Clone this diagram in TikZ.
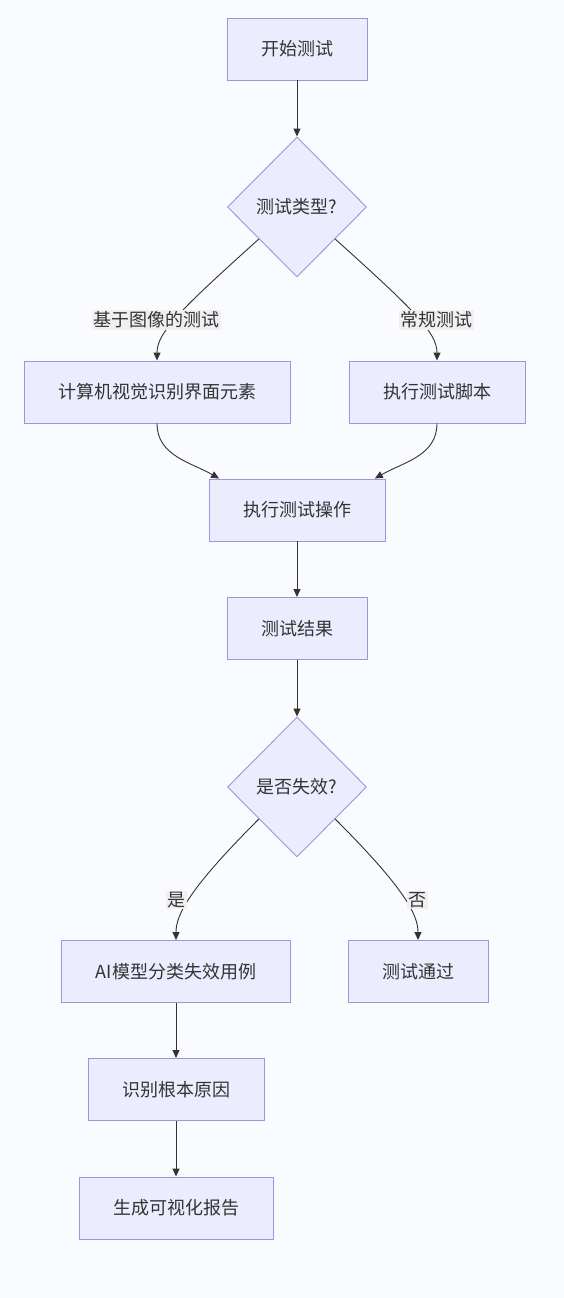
\documentclass[tikz,border=0pt]{standalone}
\usepackage{fontspec}
\setmainfont{Noto Sans CJK SC}
\usetikzlibrary{arrows.meta,shapes.geometric}
\definecolor{boxfill}{HTML}{ECECFF}
\definecolor{boxline}{HTML}{9F95DA}
\definecolor{ink}{HTML}{333333}
\definecolor{paper}{HTML}{FAFBFE}
\tikzset{
  box/.style={draw=boxline, fill=boxfill, line width=0.9pt, minimum height=62pt,
    inner xsep=34pt, text=ink, font=\fontsize{18}{21}\selectfont},
  choice/.style={diamond, draw=boxline, fill=boxfill, line width=0.9pt, inner sep=0pt,
    minimum width=139pt, minimum height=140pt, text=ink, font=\fontsize{18}{21}\selectfont},
  link/.style={draw=ink, line width=0.9pt, -{Triangle[length=8pt,width=7pt]}},
  branch/.style={out looseness=1.7, in looseness=0.45},
  tag/.style={fill=gray!12, text=ink, inner sep=1.5pt, font=\fontsize{18}{21}\selectfont}
}

\begin{document}
\begin{tikzpicture}[x=1pt,y=1pt]
			\fill[paper] (0,0) rectangle (564,-1298);
			\useasboundingbox (0,0) rectangle (564,-1298);
			\node[box]    (start)    at (297,-49)     {开始测试};
			\node[choice] (type)     at (297,-207)    {测试类型?};
			\node[box]    (vision)   at (157,-392)    {计算机视觉识别界面元素};
			\node[box]    (script)   at (437,-392)    {执行测试脚本};
			\node[box]    (exec)     at (297,-510)    {执行测试操作};
			\node[box]    (result)   at (297,-628.5)  {测试结果};
			\node[choice] (fail)     at (297,-787)    {是否失效?};
			\node[box]    (classify) at (176,-971.5)  {AI模型分类失效用例};
			\node[box]    (pass)     at (418,-971.5)  {测试通过};
			\node[box]    (cause)    at (176,-1089.5) {识别根本原因};
			\node[box]    (report)   at (176,-1208)   {生成可视化报告};
			\draw[link] (start) -- (type);
			\draw[link] (type.-140) to[out=-138,in=90,branch] (vision);
			\draw[link] (type.-40) to[out=-42,in=90,branch] (script);
			\draw[link] (vision) to[out=-90,in=150] (exec.158);
			\draw[link] (script) to[out=-90,in=30] (exec.22);
			\draw[link] (exec) -- (result);
			\draw[link] (result) -- (fail);
			\draw[link] (fail.-140) to[out=-135,in=90,branch] (classify);
			\draw[link] (fail.-40) to[out=-45,in=90,branch] (pass);
			\draw[link] (classify) -- (cause);
			\draw[link] (cause) -- (report);
			% edge labels on top of the lines
			\node[tag] (imgtag)  at (156.5,-320) {基于图像的测试};
			\node[tag] (normtag) at (436,-320)   {常规测试};
			\node[tag] (yestag)  at (176,-900)   {是};
			\node[tag] (notag)   at (417,-900)   {否};
		\end{tikzpicture}
\end{document}
